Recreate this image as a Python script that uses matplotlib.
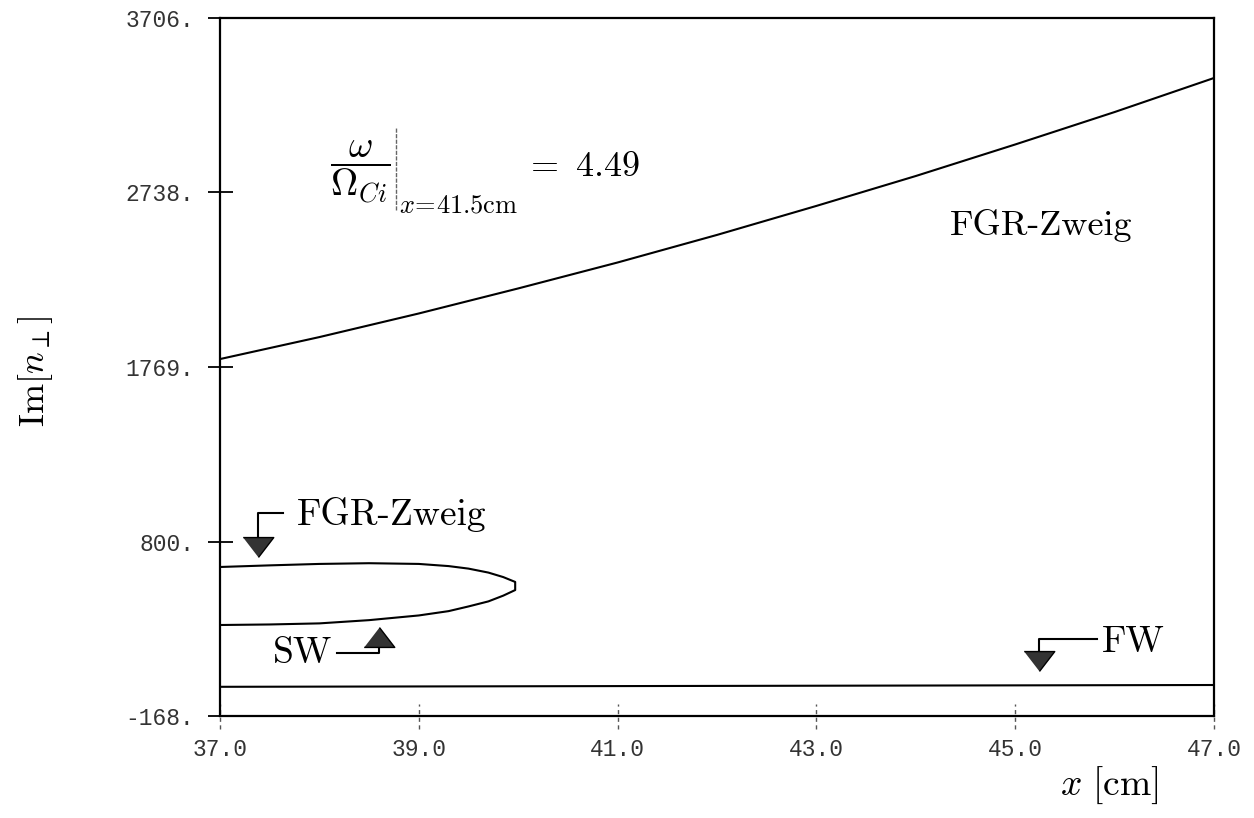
import matplotlib
matplotlib.use('Agg')
import matplotlib.pyplot as plt

plt.rcParams['mathtext.fontset'] = 'cm'

# FGR branch, upper curve
x_fgr = [37.0, 38.0, 39.0, 40.0, 41.0, 42.0, 43.0, 44.0, 45.0, 46.0, 47.0]
im_fgr = [1813, 1935, 2066, 2205, 2349, 2502, 2663, 2829, 3004, 3184, 3373]

# closed loop: lower FGR branch turning over into the SW branch
x_loop = [37.0, 37.5, 38.0, 38.5, 39.0, 39.3, 39.5, 39.7, 39.85, 39.97,
          39.97, 39.85, 39.7, 39.5, 39.3, 39.0, 38.5, 38.0, 37.5, 37.0]
im_loop = [659, 668, 676, 680, 676, 664, 650, 628, 603, 576,
           531, 500, 468, 440, 414, 390, 364, 346, 340, 337]

# fast wave, almost flat
x_fw = [37.0, 42.0, 47.0]
im_fw = [-6, -1, 4]

x_ticks = [37.0, 39.0, 41.0, 43.0, 45.0, 47.0]
x_ticklabels = ['37.0', '39.0', '41.0', '43.0', '45.0', '47.0']
y_ticks = [-168, 800, 1769, 2738, 3706]
y_ticklabels = ['-168.', '800.', '1769.', '2738.', '3706.']

fig = plt.figure(figsize=(12.54, 8.18), dpi=100)
ax = fig.add_axes([0.1754, 0.1247, 0.7927, 0.8533])

lw = 1.5
ax.plot(x_fgr, im_fgr, color='black', lw=lw)
ax.plot(x_loop, im_loop, color='black', lw=lw)
ax.plot(x_fw, im_fw, color='black', lw=lw)

ax.set_xlim(37.0, 47.0)
ax.set_ylim(-168, 3706)

for s in ax.spines.values():
    s.set_linewidth(1.6)

# y ticks cross the frame
ax.set_yticks(y_ticks)
ax.set_yticklabels(y_ticklabels)
ax.tick_params(axis='y', direction='inout', length=18, width=1.3, pad=9.5,
               labelsize=16.5, labelcolor='#333333')

# x ticks are short dashed strokes drawn by hand
ax.set_xticks(x_ticks)
ax.set_xticklabels(x_ticklabels)
ax.tick_params(axis='x', length=0, pad=16, labelsize=16.5, labelcolor='#333333')
ax.vlines(x_ticks, -0.019, 0.017, transform=ax.get_xaxis_transform(),
          colors='#555555', linestyles=(0, (3, 2.5)), lw=1.0, clip_on=False)

for lab in ax.get_xticklabels() + ax.get_yticklabels():
    lab.set_fontfamily('Liberation Mono')

ax.set_xlabel(r'$x\ [\mathrm{cm}]$', fontsize=27, ha='right', va='center')
ax.xaxis.set_label_coords(0.944, -0.099)
ax.set_ylabel(r'$\mathrm{Im}[n_\perp]$', fontsize=26, va='center')
ax.yaxis.set_label_coords(-0.186, 0.494)

# frequency annotation: fraction, evaluation bar, subscript, value
ax.text(0.141, 0.778, r'$\dfrac{\omega}{\Omega_{Ci}}$', transform=ax.transAxes,
        fontsize=27, ha='center', va='center')
ax.plot([0.1771, 0.1771], [0.725, 0.842], transform=ax.transAxes,
        color='#666666', lw=1.0, linestyle=(0, (3, 1)))
ax.text(0.180, 0.732, r'$x\!=\!41.5\mathrm{cm}$', transform=ax.transAxes,
        fontsize=19, ha='left', va='center')
ax.text(0.306, 0.788, r'$=\ 4.49$', transform=ax.transAxes,
        fontsize=26, ha='left', va='center')

ax.text(44.34, 2502, 'FGR-Zweig', fontfamily='cmr10', fontsize=26,
        ha='left', va='baseline')

# branch markers: elbow line plus filled triangle
tri_down = [(-1, 0.65), (1, 0.65), (0, -0.65)]
tri_up = [(-1, -0.65), (1, -0.65), (0, 0.65)]
mk = dict(color='#333333', markeredgecolor='black', markersize=22, linestyle='none')

ax.plot([37.382, 37.382, 37.634], [826, 959, 959], color='black', lw=lw)
ax.plot([37.382], [771], marker=tri_down, **mk)
ax.text(37.775, 892, 'FGR-Zweig', fontfamily='cmr10', fontsize=27,
        ha='left', va='baseline')

ax.plot([38.600, 38.600, 38.177], [215, 182, 182], color='black', lw=lw)
ax.plot([38.600], [270], marker=tri_up, **mk)
ax.text(38.127, 126, 'SW', fontfamily='cmr10', fontsize=27,
        ha='right', va='baseline')

ax.plot([45.239, 45.239, 45.823], [198, 259, 259], color='black', lw=lw)
ax.plot([45.239], [137], marker=tri_down, **mk)
ax.text(45.873, 187, 'FW', fontfamily='cmr10', fontsize=27,
        ha='left', va='baseline')

fig.savefig('out.png', dpi=100)
